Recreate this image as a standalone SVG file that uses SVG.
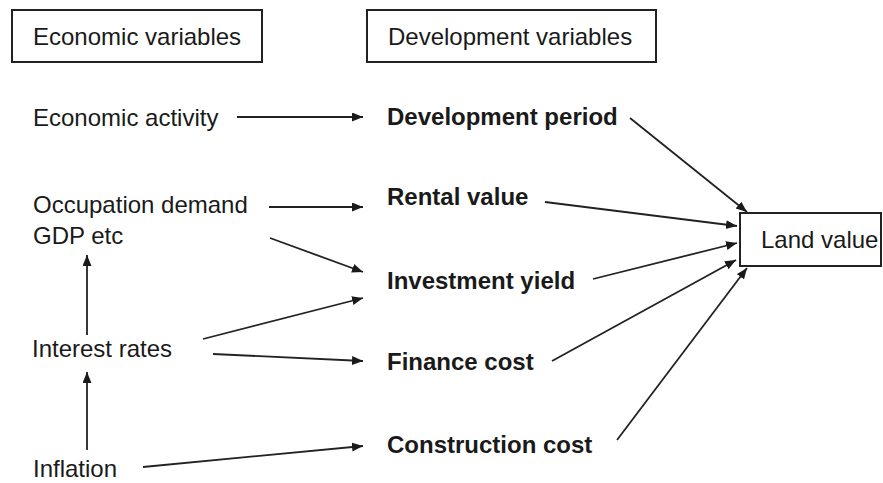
<svg xmlns="http://www.w3.org/2000/svg" width="883" height="483" viewBox="0 0 883 483">
<defs>
<marker id="arr" markerUnits="userSpaceOnUse" markerWidth="12" markerHeight="10" refX="11" refY="4.5" orient="auto">
<path d="M0,0 L11,4.5 L0,9 z" fill="#1a1a1a"/>
</marker>
<style>
text{font-family:"Liberation Sans",Arial,sans-serif;font-size:24px;fill:#1a1a1a}
.b{font-weight:bold}
.box{fill:#fff;stroke:#222;stroke-width:2}
#connectors line{stroke:#222;stroke-width:1.8;marker-end:url(#arr)}
</style>
</defs>
<rect width="883" height="483" fill="#fff"/>
<g id="economic-variables"><rect class="box" x="12" y="10" width="250" height="52"/><text x="33" y="45">Economic variables</text></g>
<g id="development-variables"><rect class="box" x="367" y="10" width="289" height="52"/><text x="388" y="45">Development variables</text></g>
<g id="economic-activity"><text x="33" y="126">Economic activity</text></g>
<g id="occupation-demand"><text x="33" y="213">Occupation demand</text><text x="33" y="244">GDP etc</text></g>
<g id="interest-rates"><text x="32" y="357">Interest rates</text></g>
<g id="inflation"><text x="33" y="477">Inflation</text></g>
<g id="development-period"><text class="b" x="387" y="125">Development period</text></g>
<g id="rental-value"><text class="b" x="387" y="205">Rental value</text></g>
<g id="investment-yield"><text class="b" x="387" y="289">Investment yield</text></g>
<g id="finance-cost"><text class="b" x="387" y="370">Finance cost</text></g>
<g id="construction-cost"><text class="b" x="387" y="453">Construction cost</text></g>
<g id="land-value"><rect class="box" x="740" y="213" width="141" height="53"/><text x="761" y="248">Land value</text></g>
<g id="connectors">
<line x1="237" y1="117" x2="363" y2="117"/>
<line x1="269" y1="207" x2="363" y2="207"/>
<line x1="270" y1="238" x2="363" y2="272"/>
<line x1="203" y1="339" x2="363" y2="298"/>
<line x1="213" y1="354" x2="363" y2="361"/>
<line x1="143" y1="467" x2="363" y2="446"/>
<line x1="87" y1="335" x2="87" y2="255"/>
<line x1="87" y1="450" x2="87" y2="372"/>
<line x1="630" y1="118" x2="747" y2="212"/>
<line x1="545" y1="202" x2="737" y2="226"/>
<line x1="593" y1="279" x2="737" y2="243"/>
<line x1="552" y1="361" x2="736" y2="260"/>
<line x1="617" y1="440" x2="747" y2="268"/>
</g>
</svg>
